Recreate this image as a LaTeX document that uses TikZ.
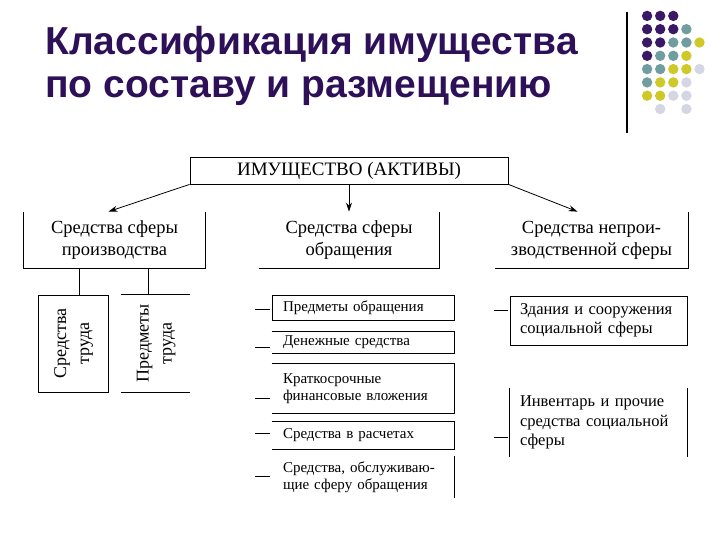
\documentclass[tikz,border=0pt]{standalone}
\usepackage{fontspec}
\setmainfont{Liberation Serif}
\newfontfamily\titlefont{Liberation Sans}
\usetikzlibrary{arrows.meta}
\definecolor{titlecol}{RGB}{46,16,88}
\definecolor{pu}{RGB}{58,24,102}
\definecolor{te}{RGB}{112,158,160}
\definecolor{ye}{RGB}{206,200,40}
\definecolor{gy}{RGB}{212,214,228}
\colorlet{no}{white}

\begin{document}
\begin{tikzpicture}[x=1pt, y=-1pt, ->, >={Stealth[length=9pt,width=6pt]}, line width=0.8pt, every node/.style={inner sep=0pt},
  title/.style={anchor=base west, text=titlecol, font=\titlefont\bfseries\fontsize{39}{43}\selectfont},
  level/.style={minimum width=181pt, minimum height=56pt, align=center, font=\fontsize{18.5}{22}\selectfont},
  mid/.style={minimum width=180pt, text width=160pt, inner xsep=11pt, align=left, font=\fontsize{15}{17.5}\selectfont},
  side/.style={minimum width=177pt, text width=157pt, inner xsep=10pt, align=left, font=\fontsize{16.5}{19.5}\selectfont},
  rot/.style={minimum height=97pt, font=\fontsize{18}{23}\selectfont}]
\useasboundingbox (0,0) rectangle (720,540);
\node[title] (T1) at (45,55) {Классификация имущества};
\node[title] (T2) at (45,98) {по составу и размещению};
\draw[-, line width=1.2pt] (627,12) -- (627,133);
\foreach \row [count=\j] in {{pu,pu,pu},{pu,pu,pu,te},{pu,pu,te,te,ye},{pu,te,te,ye},{te,te,ye,ye,gy},{te,ye,ye,gy},{ye,ye,gy,gy},{no,gy,no,gy}}
  \foreach \c [count=\i] in \row
    \fill[\c] (634+13.1*\i, 2.6+13.3*\j) circle (5.2pt);

\node[draw, minimum width=318pt, minimum height=27pt, font=\fontsize{19}{21}\selectfont] (IM) at (349,170.5) {ИМУЩЕСТВО (АКТИВЫ)};
\node[level] (PR) at (114.5,240) {Средства сферы\\производства};
\node[level, minimum width=180pt] (OB) at (349,240) {Средства сферы\\обращения};
\node[level, minimum width=193pt] (NP) at (591.5,240) {Средства непрои-\\зводственной сферы};
\draw[-] (PR.north west) -- (PR.south west) -- (PR.south east) -- (PR.north east);
\draw[-] (OB.south west) -- (OB.south east) -- (OB.north east);
\draw[-] (NP.south west) -- (NP.south east) -- (NP.north east);
\draw (IM.south west) -- ([xshift=-6pt]PR.north);
\draw (IM.south) -- (OB.north);
\draw (IM.south east) -- ([xshift=-14pt]NP.north);

\node[rot, draw, minimum width=70pt] (ST) at (73,343.5) {\rotatebox{90}{\begin{tabular}{@{}c@{}}Средства\\труда\end{tabular}}};
\node[rot, minimum width=69pt] (PT) at (155.5,343.5) {\rotatebox{90}{\begin{tabular}{@{}c@{}}Предметы\\труда\end{tabular}}};
\draw[-] (PT.north west) -- (PT.north east) (PT.south west) -- (PT.south east);
\draw[-] (ST.north) ++(6,0) -- ++(0,-27);
\draw[-] (PT.north) ++(-7.5,0) -- ++(0,-27);

\node[mid, draw, minimum height=25pt] (PO) at (363,307.5) {Предметы обращения};
\node[mid, minimum height=21pt] (DS) at (363,342.5) {Денежные средства};
\node[mid, minimum height=49pt] (KF) at (363,388.5) {Краткосрочные\\финансовые вложения};
\node[mid, minimum height=27pt] (SR) at (363,435.5) {Средства в расчетах};
\node[mid, minimum height=41pt] (SO) at (363,477) {Средства, обслуживаю-\\щие сферу обращения};
\foreach \n in {DS,KF,SR}
  \draw[-] (\n.north west) -- (\n.north east) -- (\n.south east) -- (\n.south west);
\draw[-] (SO.north east) -- (SO.south east);
\foreach \n/\d in {PO/-1.5,DS/-4.5,KF/-9.5,SR/2.5,SO/1}
  \draw[-] ([xshift=-2pt,yshift=\d pt]\n.west) -- ++(-15,0);

\node[side, draw, minimum height=49pt] (ZS) at (598.5,320.5) {Здания и сооружения\\социальной сферы};
\node[side, minimum height=69pt] (IP) at (598.5,422.5) {Инвентарь и прочие\\средства социальной\\сферы};
\draw[-] (IP.north west) -- (IP.south west) (IP.north east) -- (IP.south east);
\foreach \n/\d in {ZS/10.5,IP/-14.5}
  \draw[-] ([xshift=-2pt,yshift=\d pt]\n.west) -- ++(-14,0);
\end{tikzpicture}
\end{document}
